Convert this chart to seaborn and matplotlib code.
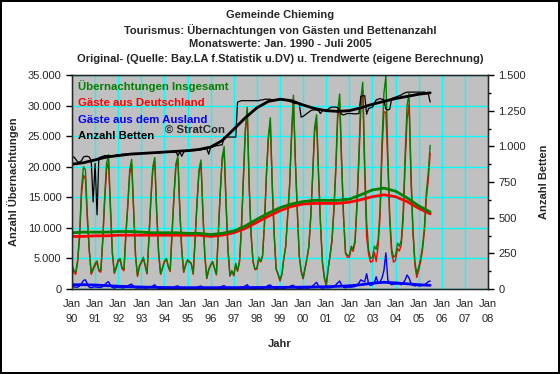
import pandas as pd
import seaborn as sns
import matplotlib.pyplot as plt
import matplotlib.dates as mdates
from matplotlib.ticker import FuncFormatter, MultipleLocator

# monthly values Jan 1990 - Jul 2005
insgesamt = [
    4000, 3000, 2700, 4800, 9000, 16500, 20000, 19500, 12000, 6500, 2600, 3400,   # 1990
    4200, 4600, 3200, 3000, 8000, 15000, 20500, 22000, 13500, 6000, 2700, 3600,   # 1991
    4800, 5000, 3500, 3200, 9000, 14000, 19500, 21200, 13000, 5500, 2200, 3800,   # 1992
    4500, 5200, 4000, 2600, 8500, 15000, 20000, 21500, 12500, 6000, 2500, 3500,   # 1993
    4600, 5000, 3800, 3000, 9000, 15500, 20500, 21700, 13000, 6500, 2800, 4000,   # 1994
    4800, 4500, 4200, 2500, 8500, 14500, 19500, 21100, 12500, 5500, 1800, 3200,   # 1995
    4000, 4500, 3500, 2400, 9000, 16000, 21500, 23300, 14000, 6500, 2200, 3000,   # 1996
    2300, 4200, 3000, 4500, 10000, 18000, 26000, 29800, 17000, 9000, 4500, 3300,  # 1997
    3400, 5200, 4500, 5500, 11000, 19000, 25000, 28000, 17000, 9000, 3300, 2500,  # 1998
    1500, 2500, 5000, 7000, 12000, 17000, 25000, 31700, 21000, 13000, 5500, 3000,  # 1999
    1800, 3500, 5000, 7000, 12000, 19000, 26500, 28500, 19000, 11000, 4500, 2000,  # 2000
    700, 3500, 5500, 8000, 13000, 20000, 29000, 31900, 21000, 12000, 6000, 5500,   # 2001
    5500, 7000, 6500, 8000, 14000, 22000, 31000, 33800, 20000, 11000, 6500, 5000,  # 2002
    5200, 7000, 6500, 8000, 13000, 24000, 32000, 34800, 22000, 12000, 6500, 5200,  # 2003
    5500, 7500, 7000, 8000, 12500, 22000, 30000, 32000, 19000, 10000, 4500, 2500,  # 2004
    3600, 5000, 6900, 10100, 15700, 19000, 23500,                                   # 2005
]
ausland = [
    400, 350, 300, 300, 500, 900, 1400, 1500, 800, 300, 200, 300,
    350, 300, 250, 250, 400, 700, 1000, 1200, 600, 250, 150, 250,
    300, 250, 200, 200, 300, 500, 700, 800, 400, 200, 150, 200,
    200, 200, 150, 150, 250, 350, 500, 700, 300, 150, 100, 150,
    150, 150, 150, 150, 200, 300, 450, 500, 300, 150, 100, 150,
    150, 150, 100, 100, 200, 300, 400, 500, 250, 150, 100, 150,
    150, 150, 100, 100, 200, 300, 450, 550, 300, 150, 100, 150,
    150, 150, 100, 100, 250, 350, 500, 700, 350, 150, 100, 150,
    150, 150, 100, 150, 250, 400, 600, 650, 350, 150, 100, 150,
    200, 150, 150, 150, 300, 400, 550, 600, 300, 150, 100, 150,
    150, 200, 150, 150, 300, 500, 800, 1100, 500, 200, 150, 200,
    200, 200, 200, 250, 350, 700, 1000, 1300, 600, 300, 200, 300,
    300, 300, 350, 400, 600, 1000, 1500, 1300, 1200, 2500, 800, 600,
    700, 1000, 2000, 900, 1200, 1800, 3000, 5900, 1500, 900, 700, 800,
    800, 900, 800, 700, 1000, 1500, 2300, 1800, 900, 600, 500, 600,
    500, 500, 600, 700, 900, 1200, 1300,
]
betten = [
    925, 925, 910, 890, 890, 900, 925, 930, 930, 925, 900, 610,
    880, 520, 920, 925, 930, 935, 935, 935, 935, 935, 935, 940,
    940, 940, 945, 945, 945, 945, 945, 950, 950, 950, 950, 950,
    950, 950, 955, 955, 955, 955, 955, 955, 955, 955, 955, 960,
    960, 960, 960, 960, 960, 960, 960, 935, 960, 930, 960, 965,
    965, 965, 970, 970, 970, 975, 975, 975, 980, 980, 985, 945,
    995, 995, 1000, 1005, 1005, 1010, 1010, 1065, 1065, 1065, 1065, 1065,
    1065, 1065, 1310, 1315, 1320, 1320, 1320, 1320, 1320, 1320, 1320, 1320,
    1320, 1320, 1325, 1325, 1330, 1330, 1330, 1330, 1325, 1325, 1325, 1325,
    1330, 1330, 1330, 1325, 1320, 1315, 1310, 1305, 1300, 1300, 1300, 1205,
    1210, 1220, 1230, 1240, 1250, 1255, 1255, 1255, 1250, 1230, 1250, 1255,
    1255, 1260, 1270, 1275, 1275, 1275, 1270, 1250, 1225, 1220, 1225, 1230,
    1230, 1230, 1228, 1228, 1228, 1230, 1350, 1355, 1355, 1225, 1265, 1270,
    1275, 1300, 1325, 1330, 1335, 1330, 1325, 1260, 1255, 1260, 1335, 1340,
    1345, 1350, 1355, 1360, 1370, 1375, 1380, 1380, 1380, 1380, 1380, 1380,
    1380, 1380, 1380, 1380, 1375, 1370, 1310,
]

# trend values, every half year (Jan / Jul)
trend_insgesamt = [9200, 9300, 9300, 9300, 9400, 9400, 9300, 9200, 9200, 9200, 9100, 9100,
                   8900, 9100, 9500, 10300, 11400, 12400, 13300, 13900, 14300, 14500, 14500, 14500,
                   14700, 15400, 16200, 16500, 16000, 14900, 13600, 12600]
trend_deutschland = [8600, 8600, 8700, 8700, 8800, 8800, 8800, 8800, 8800, 8800, 8800, 8800,
                     8600, 8800, 9200, 9900, 10900, 11900, 12800, 13500, 13900, 14000, 14000, 14000,
                     14200, 14600, 15100, 15400, 15100, 14300, 13200, 12300]
trend_ausland = [700, 700, 650, 550, 450, 380, 320, 280, 250, 230, 220, 220,
                 220, 230, 230, 240, 250, 260, 270, 280, 300, 330, 380, 440,
                 520, 700, 950, 1100, 1000, 850, 700, 600]
trend_betten = [875, 885, 905, 925, 935, 945, 950, 955, 960, 965, 970, 978,
                995, 1040, 1120, 1200, 1270, 1315, 1330, 1320, 1290, 1265, 1250, 1245,
                1250, 1270, 1295, 1315, 1335, 1350, 1365, 1375]

df = pd.DataFrame({
    "Monat": pd.date_range("1990-01-01", periods=len(insgesamt), freq="MS"),
    "Insgesamt": insgesamt,
    "Ausland": ausland,
    "Betten": betten,
})
df["Deutschland"] = df["Insgesamt"] - df["Ausland"]

trend = pd.DataFrame({
    "Monat": pd.date_range("1990-01-01", periods=len(trend_insgesamt), freq="6MS"),
    "Insgesamt": trend_insgesamt,
    "Deutschland": trend_deutschland,
    "Ausland": trend_ausland,
    "Betten": trend_betten,
})

sns.set_style("white")
plt.rcParams["font.family"] = ["Liberation Sans", "DejaVu Sans"]
plt.rcParams["font.size"] = 8

fig = plt.figure(figsize=(5.6, 3.74), dpi=100)
fig.patch.set_facecolor("white")
fig.patch.set_edgecolor("black")
fig.patch.set_linewidth(1.5)
ax = fig.add_axes([72 / 560, 1 - 289 / 374, 416 / 560, 214 / 374])
ax.set_facecolor("#c0c0c0")

sns.lineplot(data=df, x="Monat", y="Deutschland", color="red", lw=1, ax=ax)
sns.lineplot(data=df, x="Monat", y="Insgesamt", color="green", lw=1, ax=ax)
sns.lineplot(data=df, x="Monat", y="Ausland", color="blue", lw=1, ax=ax)
sns.lineplot(data=trend, x="Monat", y="Deutschland", color="red", lw=2.0, ax=ax)
sns.lineplot(data=trend, x="Monat", y="Insgesamt", color="green", lw=2.0, ax=ax)
sns.lineplot(data=trend, x="Monat", y="Ausland", color="blue", lw=2.0, ax=ax)

ax.set_xlim(pd.Timestamp("1990-01-01"), pd.Timestamp("2008-01-01"))
ax.set_ylim(0, 35000)
ax.yaxis.set_major_locator(MultipleLocator(5000))
ax.yaxis.set_major_formatter(FuncFormatter(lambda v, p: f"{v:,.0f}".replace(",", ".")))
ax.xaxis.set_major_locator(mdates.YearLocator(1))
ax.xaxis.set_minor_locator(mdates.MonthLocator())
ax.xaxis.set_major_formatter(FuncFormatter(lambda v, p: "Jan\n%02d" % (mdates.num2date(v).year % 100)))
ax.grid(True, which="major", color="#00ffff", lw=1)
ax.set_axisbelow(True)
for s in ax.spines.values():
    s.set_color("black")
    s.set_linewidth(1)
ax.tick_params(axis="x", which="major", length=4, width=1, color="black", pad=3, labelsize=8)
ax.tick_params(axis="x", which="minor", length=1.5, width=0.6, color="black")
ax.tick_params(axis="y", which="major", length=4, width=1, color="black", labelsize=8, left=True)
for lab in ax.get_xticklabels():
    lab.set_linespacing(1.6)
ax.set_ylabel("Anzahl Übernachtungen", fontweight="bold", fontsize=8, labelpad=6)
ax.set_xlabel("Jahr", fontweight="bold", fontsize=8, labelpad=11)

ax2 = ax.twinx()
sns.lineplot(data=df, x="Monat", y="Betten", color="black", lw=0.9, ax=ax2)
sns.lineplot(data=trend, x="Monat", y="Betten", color="black", lw=2.0, ax=ax2)
ax2.set_ylim(0, 1500)
ax2.yaxis.set_major_locator(MultipleLocator(250))
ax2.yaxis.set_minor_locator(MultipleLocator(125))
ax2.yaxis.set_major_formatter(FuncFormatter(lambda v, p: f"{v:,.0f}".replace(",", ".")))
ax2.tick_params(axis="y", which="major", length=4, width=1, color="black", labelsize=8, right=True)
ax2.tick_params(axis="y", which="minor", length=2.5, width=1, color="black", right=True)
ax2.set_ylabel("Anzahl Betten", fontweight="bold", fontsize=8, labelpad=9)
ax2.set_xlim(pd.Timestamp("1990-01-01"), pd.Timestamp("2008-01-01"))

titel = ["Gemeinde Chieming",
         "Tourismus: Übernachtungen von Gästen und Bettenanzahl",
         "Monatswerte: Jan. 1990 - Juli 2005",
         "Original- (Quelle: Bay.LA f.Statistik u.DV) u. Trendwerte (eigene Berechnung)"]
for i, t in enumerate(titel):
    fig.text(0.5, 1 - (15 + i * 14.7) / 374, t, ha="center", va="center", fontweight="bold", fontsize=8)

legende = [("Übernachtungen Insgesamt", "green"), ("Gäste aus Deutschland", "red"),
           ("Gäste aus dem Ausland", "blue"), ("Anzahl Betten", "black")]
for i, (t, c) in enumerate(legende):
    fig.text(78 / 560, 1 - (86 + i * 16.8) / 374, t, ha="left", va="center", color=c,
             fontweight="bold", fontsize=8.2)
fig.text(165 / 560, 1 - 129.5 / 374, "© StratCon", ha="left", va="center", fontweight="bold", fontsize=8.2)

fig.savefig("out.png", dpi=100)
